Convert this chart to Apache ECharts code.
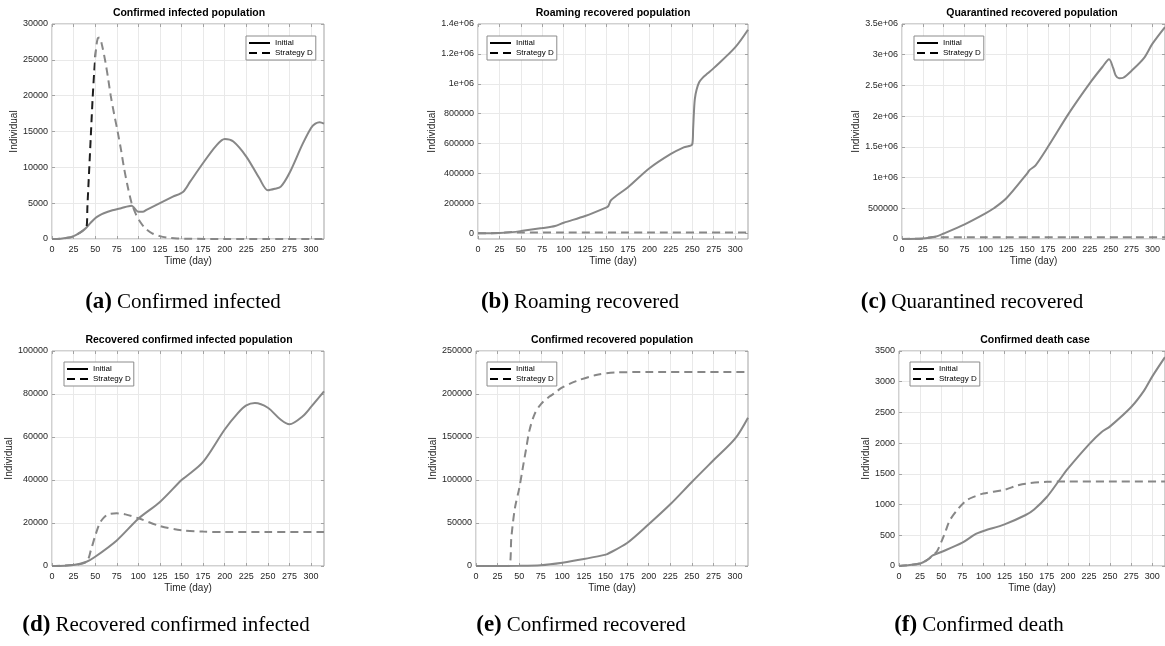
<!DOCTYPE html>
<html>
<head>
<meta charset="utf-8">
<script src="https://cdn.jsdelivr.net/npm/echarts@6/dist/echarts.min.js"></script>
<style>
  html, body { margin: 0; padding: 0; background: #fff; }
  #main { width: 1165px; height: 646px; }
</style>
</head>
<body>
<div id="main"></div>
<script>
// x ticks shared by every panel
var dayTicks = [0, 25, 50, 75, 100, 125, 150, 175, 200, 225, 250, 275, 300];

// (a) confirmed infected
var aDays = [0, 10, 20, 25, 30, 35, 40, 45, 50, 55, 60, 70, 80, 92, 100, 105, 110, 125, 140, 152, 160, 175, 190, 200, 210, 225, 240, 250, 258, 265, 275, 290, 300, 305, 310, 315];
var aInitial = [0, 50, 200, 400, 700, 1100, 1600, 2300, 2900, 3300, 3600, 4000, 4300, 4650, 3800, 3800, 4100, 5000, 5900, 6600, 8000, 10600, 13000, 13950, 13600, 11500, 8500, 6800, 7000, 7300, 9200, 13200, 15500, 16100, 16300, 16100];
var aDaysD = [0, 10, 20, 25, 30, 35, 40, 41, 43, 45, 47, 49, 51, 53, 55, 58, 62, 65, 68, 72, 76, 80, 83, 87, 92, 97, 102, 108, 116, 125, 135, 145, 160, 200, 250, 315];
var aStrategyD = [0, 50, 200, 400, 700, 1100, 1600, 4500, 9500, 14500, 19500, 23500, 26500, 28000, 28100, 27000, 24600, 22400, 20000, 17400, 15000, 12400, 10200, 7700, 5100, 3500, 2400, 1500, 800, 400, 180, 80, 30, 10, 10, 10];

// (b) roaming recovered
var bDays = [0, 25, 40, 50, 75, 90, 100, 125, 150, 152, 155, 160, 175, 200, 225, 240, 250, 251, 252, 253, 255, 258, 262, 268, 275, 300, 315];
var bInitial = [0, 2000, 8000, 15000, 35000, 49000, 71000, 116000, 174000, 182000, 220000, 245000, 308000, 435000, 531000, 575000, 596000, 700000, 820000, 900000, 960000, 1010000, 1040000, 1070000, 1105000, 1244000, 1362000];
var bDaysD = [0, 25, 40, 45, 100, 200, 315];
var bStrategyD = [0, 2000, 8000, 5000, 5000, 5000, 5000];

// (c) quarantined recovered
var cDays = [0, 25, 40, 50, 75, 100, 110, 125, 150, 153, 160, 175, 200, 225, 240, 248, 253, 256, 260, 265, 275, 290, 300, 315];
var cInitial = [0, 10000, 38000, 90000, 239000, 418000, 500000, 663000, 1070000, 1125000, 1200000, 1505000, 2049000, 2538000, 2800000, 2925000, 2780000, 2660000, 2615000, 2625000, 2740000, 2950000, 3180000, 3450000];
var cDaysD = [0, 25, 40, 45, 100, 315];
var cStrategyD = [0, 10000, 38000, 27000, 27000, 27000];

// (d) recovered confirmed infected
var dDays = [0, 25, 40, 50, 75, 100, 125, 150, 155, 175, 200, 215, 225, 235, 250, 265, 275, 290, 300, 315];
var dInitial = [0, 500, 2000, 4300, 11900, 22000, 29800, 40000, 41500, 48400, 63500, 71000, 74700, 75800, 73600, 68000, 65900, 69500, 74000, 81200];
var dDaysD = [0, 25, 40, 45, 50, 55, 60, 65, 75, 85, 100, 125, 150, 175, 200, 250, 315];
var dStrategyD = [0, 500, 2000, 7300, 14000, 19700, 22500, 24000, 24500, 24000, 22200, 18600, 16600, 16000, 15800, 15800, 15800];

// (e) confirmed recovered
var eDays = [0, 50, 75, 100, 125, 150, 152, 175, 200, 225, 250, 275, 300, 315];
var eInitial = [0, 300, 1000, 3900, 8100, 13200, 13800, 26700, 48500, 71700, 97700, 122900, 148000, 172500];
var eDaysD = [0, 38, 41, 45, 50, 54, 58, 62, 68, 75, 85, 91, 99, 116, 139, 162, 200, 315];
var eStrategyD = [0, 0, 34000, 67000, 90000, 113000, 136000, 158000, 177000, 188000, 197000, 201000, 207000, 215000, 222000, 225000, 225500, 225500];

// (f) confirmed death
var fDays = [0, 25, 35, 40, 50, 75, 90, 100, 125, 150, 160, 175, 190, 200, 225, 240, 250, 275, 290, 300, 315];
var fInitial = [0, 40, 114, 174, 228, 380, 515, 570, 678, 830, 920, 1123, 1400, 1584, 1980, 2180, 2273, 2588, 2850, 3087, 3400];
var fDaysD = [0, 25, 35, 40, 45, 50, 55, 60, 70, 80, 90, 100, 125, 140, 150, 175, 200, 250, 315];
var fStrategyD = [0, 40, 114, 174, 240, 390, 560, 740, 930, 1070, 1134, 1180, 1242, 1310, 1340, 1370, 1375, 1375, 1375];

// y tick values per panel
var aTicks = [0, 5000, 10000, 15000, 20000, 25000, 30000];
var bTicks = [0, 200000, 400000, 600000, 800000, 1000000, 1200000, 1400000];
var cTicks = [0, 500000, 1000000, 1500000, 2000000, 2500000, 3000000, 3500000];
var dTicks = [0, 20000, 40000, 60000, 80000, 100000];
var eTicks = [0, 50000, 100000, 150000, 200000, 250000];
var fTicks = [0, 500, 1000, 1500, 2000, 2500, 3000, 3500];

var panels = [
  { title: 'Confirmed infected population', tag: '(a)', caption: 'Confirmed infected',
    days: aDays, ini: aInitial, daysD: aDaysD, strat: aStrategyD, ticks: aTicks, yMin: 0,
    left: 52, top: 24, width: 272, legX: 246, legY: 36, nameGap: 28, titleX: 189, capX: 183, capY: 302 },
  { title: 'Roaming recovered population', tag: '(b)', caption: 'Roaming recovered',
    days: bDays, ini: bInitial, daysD: bDaysD, strat: bStrategyD, ticks: bTicks, yMin: -38000,
    left: 478, top: 24, width: 270, legX: 487, legY: 36, nameGap: 35, titleX: 613, capX: 580, capY: 302 },
  { title: 'Quarantined recovered population', tag: '(c)', caption: 'Quarantined recovered',
    days: cDays, ini: cInitial, daysD: cDaysD, strat: cStrategyD, ticks: cTicks, yMin: 0,
    left: 902, top: 24, width: 272, legX: 914, legY: 36, nameGap: 36, titleX: 1032, capX: 972, capY: 302 },
  { title: 'Recovered confirmed infected population', tag: '(d)', caption: 'Recovered confirmed infected',
    days: dDays, ini: dInitial, daysD: dDaysD, strat: dStrategyD, ticks: dTicks, yMin: 0,
    left: 52, top: 351, width: 272, legX: 64, legY: 362, nameGap: 31, titleX: 189, capX: 166, capY: 625 },
  { title: 'Confirmed recovered population', tag: '(e)', caption: 'Confirmed recovered',
    days: eDays, ini: eInitial, daysD: eDaysD, strat: eStrategyD, ticks: eTicks, yMin: 0,
    left: 476, top: 351, width: 272, legX: 487, legY: 362, nameGap: 33, titleX: 612, capX: 581, capY: 625 },
  { title: 'Confirmed death case', tag: '(f)', caption: 'Confirmed death',
    days: fDays, ini: fInitial, daysD: fDaysD, strat: fStrategyD, ticks: fTicks, yMin: 0,
    left: 899, top: 351, width: 275, legX: 910, legY: 362, nameGap: 22, titleX: 1035, capX: 979, capY: 625 }
];

function zip(xs, ys) {
  return xs.map(function (x, i) { return [x, ys[i]]; });
}

function fmt(v) {
  if (v >= 1000000) return (v / 1000000) + 'e+06';
  return String(v);
}

var boxColor = '#a3a3a3';
var textColor = '#262626';
var lineColor = '#878787';

// the steep rise of the dashed curve in (a) shows up darker
var aDashColor = new echarts.graphic.LinearGradient(0, 0, 1, 0, [
  { offset: 0, color: lineColor },
  { offset: 0.126, color: lineColor },
  { offset: 0.127, color: '#1e1e1e' },
  { offset: 0.162, color: '#1e1e1e' },
  { offset: 0.166, color: lineColor },
  { offset: 1, color: lineColor }
]);

var grid = [], xAxis = [], yAxis = [], series = [], title = [], legend = [];

panels.forEach(function (p, i) {
  var yMax = p.ticks[p.ticks.length - 1];
  grid.push({
    left: p.left, top: p.top, width: p.width, height: 215,
    show: true, borderColor: boxColor, borderWidth: 1, backgroundColor: '#fff'
  });
  // bottom x axis
  xAxis.push({
    type: 'value', gridIndex: i, min: 0, max: 315,
    name: 'Time (day)', nameLocation: 'middle', nameGap: 17,
    nameTextStyle: { fontSize: 10, color: textColor },
    axisLine: { show: false, onZero: false },
    axisTick: { inside: true, length: 3, lineStyle: { color: boxColor }, customValues: dayTicks },
    axisLabel: { fontSize: 9, color: textColor, margin: 6, customValues: dayTicks },
    splitLine: { show: true, lineStyle: { color: '#e9e9e9', width: 1 } }
  });
  // top x axis, ticks only
  xAxis.push({
    type: 'value', gridIndex: i, min: 0, max: 315, position: 'top',
    axisLine: { show: false, onZero: false },
    axisTick: { inside: true, length: 3, lineStyle: { color: boxColor }, customValues: dayTicks },
    axisLabel: { show: false },
    splitLine: { show: false }
  });
  yAxis.push({
    type: 'value', gridIndex: i, min: p.yMin, max: yMax,
    name: 'Individual', nameLocation: 'middle', nameGap: p.nameGap,
    nameTextStyle: { fontSize: 10, color: textColor },
    axisLine: { show: false, onZero: false },
    axisTick: { inside: true, length: 3, lineStyle: { color: boxColor }, customValues: p.ticks },
    axisLabel: { fontSize: 9, color: textColor, margin: 4, customValues: p.ticks, formatter: fmt },
    splitLine: { show: true, lineStyle: { color: '#e9e9e9', width: 1 } }
  });
  yAxis.push({
    type: 'value', gridIndex: i, min: p.yMin, max: yMax, position: 'right',
    axisLine: { show: false, onZero: false },
    axisTick: { inside: true, length: 3, lineStyle: { color: boxColor }, customValues: p.ticks },
    axisLabel: { show: false },
    splitLine: { show: false }
  });
  series.push({
    name: 'Initial', type: 'line', xAxisIndex: 2 * i, yAxisIndex: 2 * i,
    data: zip(p.days, p.ini), symbol: 'none', smooth: 0.3,
    itemStyle: { color: lineColor },
    lineStyle: { color: lineColor, width: 2, type: 'solid' }, z: 3
  });
  series.push({
    name: 'Strategy D', type: 'line', xAxisIndex: 2 * i, yAxisIndex: 2 * i,
    data: zip(p.daysD, p.strat), symbol: 'none', smooth: 0.3,
    itemStyle: { color: lineColor },
    lineStyle: { color: i === 0 ? aDashColor : lineColor, width: 2, type: [8, 5] }, z: 3
  });
  title.push({
    text: p.title, left: p.titleX, top: p.top - 11, textAlign: 'center', textVerticalAlign: 'middle',
    padding: 0,
    textStyle: { fontSize: 10.5, fontWeight: 'bold', color: '#000', fontFamily: 'Liberation Sans' }
  });
  title.push({
    text: '{t|' + p.tag + '} {c|' + p.caption + '}',
    left: p.capX, top: p.capY, textAlign: 'center', textVerticalAlign: 'middle', padding: 0,
    textStyle: {
      fontWeight: 'normal',
      rich: {
        t: { fontFamily: 'Liberation Serif', fontWeight: 'bold', fontSize: 23, color: '#000' },
        c: { fontFamily: 'Liberation Serif', fontWeight: 'normal', fontSize: 21, color: '#000' }
      }
    }
  });
  legend.push({
    data: ['Initial', 'Strategy D'], orient: 'vertical', left: p.legX, top: p.legY,
    padding: [3, 3, 3, 2], itemGap: 2, itemWidth: 21, itemHeight: 10,
    backgroundColor: '#fff', borderColor: '#8c8c8c', borderWidth: 1,
    selectedMode: false,
    textStyle: { fontSize: 8, color: '#000', fontFamily: 'Liberation Sans' },
    itemStyle: { opacity: 0, color: 'transparent', borderWidth: 0 },
    lineStyle: { color: '#000', width: 2 }
  });
});

var myChart = echarts.init(document.getElementById('main'));
myChart.setOption({
  animation: false,
  backgroundColor: '#fff',
  textStyle: { fontFamily: 'Liberation Sans' },
  title: title,
  legend: legend,
  grid: grid,
  xAxis: xAxis,
  yAxis: yAxis,
  series: series
});
</script>
</body>
</html>
